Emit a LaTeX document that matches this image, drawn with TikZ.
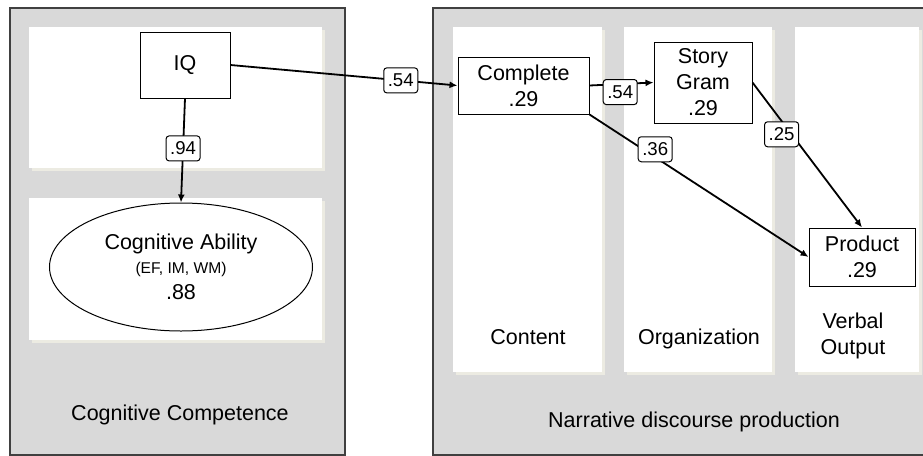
\documentclass[tikz,border=0pt]{standalone}
\usepackage{fontspec}
\setmainfont{Liberation Sans}
\usetikzlibrary{arrows.meta}
\usetikzlibrary{shapes.geometric}
\definecolor{panelgray}{HTML}{D9D9D9}
\definecolor{shadowtan}{HTML}{ECEBE2}
\newcommand{\mainsize}{\fontsize{10.75}{13}\selectfont}

\begin{document}
\begin{tikzpicture}[x=0.5pt,y=-0.5pt,
	panel/.style={draw=black!75,fill=panelgray,line width=0.6pt},
	pane/.style={fill=white},
	paneshade/.style={fill=shadowtan},
	varbox/.style={draw,fill=white,line width=0.5pt,align=center,inner sep=0pt,font=\mainsize},
	coef/.style={draw,fill=white,rounded corners=1.5pt,inner sep=1pt,line width=0.5pt,
		minimum width=17pt,minimum height=12.5pt,font=\fontsize{9.3}{10}\selectfont},
	caption/.style={align=center,font=\mainsize},
	link/.style={line width=0.9pt,-{Latex[length=4pt,width=3.5pt]}}]
	\useasboundingbox (0,0) rectangle (923,456);
	\clip (0,0) rectangle (923,456);
	\draw[panel] (10,8) rectangle (345,455);
	\draw[panel] (433,8) rectangle (940,455);
	\foreach \xa/\ya/\xb/\yb in {29/27/322/168, 29/198/322/340, 453/27/602/372, 624/27/772/372, 795/27/919/372}{
		\fill[paneshade] (\xa+3,\ya+3) rectangle (\xb+3,\yb+3);
		\fill[pane] (\xa,\ya) rectangle (\xb,\yb);
	}
	\node[varbox,minimum width=45pt,minimum height=33pt] (iq) at (185,65) {IQ};
	\node[varbox,ellipse,minimum width=131.5pt,minimum height=64pt] (abil) at (181,267)
		{Cognitive Ability\\[-1pt]{\fontsize{7.8}{10}\selectfont (EF, IM, WM)}\\.88};
	\node[varbox,minimum width=65.5pt,minimum height=28.5pt] (comp) at (523.5,85.5) {Complete\\.29};
	\node[varbox,minimum width=49pt,minimum height=40.5pt] (story) at (703,82.5) {Story\\Gram\\.29};
	\node[varbox,minimum width=53pt,minimum height=29pt] (prod) at (862,257) {Product\\.29};
	\node[caption,anchor=base] (cogcomp) at (180,420) {Cognitive Competence};
	\node[caption,anchor=base] (content) at (528,344) {Content};
	\node[caption,anchor=base] (organ) at (699,344) {Organization};
	\node[caption] (verbal) at (853,336) {Verbal\\Output};
	\node[caption,anchor=base] (narr) at (694,427) {Narrative discourse production};
	\draw[link] (iq.south) -- node[coef,pos=0.48]{.94} (abil.north);
	\draw[link] (iq.east) -- node[coef,pos=0.75]{.54} (comp.west);
	\draw[link] (comp.east) -- node[coef,pos=0.48,yshift=-4pt]{.54} (story.west);
	\draw[link] (comp.south east) -- node[coef,pos=0.3,yshift=4pt]{.36} (prod.west);
	\draw[link] (story.east) -- node[coef,pos=0.357,xshift=-5pt]{.25} (prod.north);
\end{tikzpicture}
\end{document}
